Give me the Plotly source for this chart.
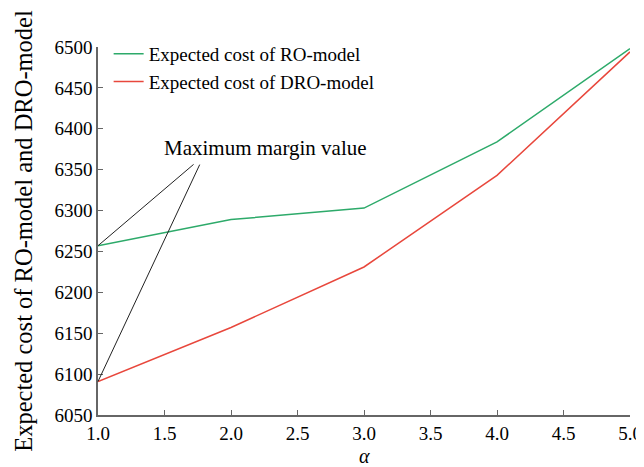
import plotly.graph_objects as go

alpha = [1.0, 2.0, 3.0, 4.0, 5.0]
ro_cost = [6257, 6289, 6303, 6384, 6498]
dro_cost = [6091, 6157, 6231, 6343, 6494]
y_ticks = [6050, 6100, 6150, 6200, 6250, 6300, 6350, 6400, 6450, 6500]
x_ticks = [1.0, 1.5, 2.0, 2.5, 3.0, 3.5, 4.0, 4.5, 5.0]

note_text = "Maximum margin value"
note_pos = (2.26, 6376)
note_tails = [(1.73, 6358), (1.77, 6358)]
note_heads = [(alpha[0], ro_cost[0]), (alpha[0], dro_cost[0])]

FONT = "Liberation Serif, Times New Roman, serif"

fig = go.Figure()
fig.add_trace(go.Scatter(x=alpha, y=ro_cost, mode="lines", name="Expected cost of RO-model",
                         line=dict(color="#2daa6a", width=1.5)))
fig.add_trace(go.Scatter(x=alpha, y=dro_cost, mode="lines", name="Expected cost of DRO-model",
                         line=dict(color="#e8473c", width=1.5)))

for (hx, hy), (tx, ty) in zip(note_heads, note_tails):
    fig.add_annotation(x=hx, y=hy, ax=tx, ay=ty, xref="x", yref="y", axref="x", ayref="y",
                       text="", showarrow=True, arrowhead=0, arrowwidth=1, arrowcolor="#222")
fig.add_annotation(x=note_pos[0], y=note_pos[1], xref="x", yref="y", text=note_text,
                   showarrow=False, font=dict(family=FONT, size=21, color="black"))
# x-axis title (alpha), placed low as in the reference
fig.add_annotation(x=0.5, y=-0.112, xref="paper", yref="paper", text="<i>α</i>",
                   showarrow=False, yanchor="middle", font=dict(family=FONT, size=20, color="black"))

fig.update_layout(
    width=636, height=459,
    margin=dict(l=90, r=14, t=39, b=52),
    paper_bgcolor="white", plot_bgcolor="white",
    font=dict(family=FONT, color="black"),
    showlegend=True,
    legend=dict(x=0.02, y=1.033, xanchor="left", yanchor="top", bgcolor="rgba(0,0,0,0)",
                font=dict(family=FONT, size=19), tracegroupgap=0, itemwidth=30),
)
fig.update_xaxes(range=[1, 5], tickvals=x_ticks, ticktext=[f"{v:.1f}" for v in x_ticks],
                 showgrid=False, zeroline=False, showline=True, linecolor="#666", linewidth=1.5,
                 ticks="inside", ticklen=5, tickcolor="#666", tickfont=dict(family=FONT, size=19),
                 automargin=False)
fig.update_yaxes(range=[6050, 6500], tickvals=y_ticks,
                 showgrid=False, zeroline=False, showline=True, linecolor="#666", linewidth=1.5,
                 ticks="inside", ticklen=5, tickcolor="#666", tickfont=dict(family=FONT, size=19),
                 automargin=False,
                 title=dict(text="Expected cost of RO-model and DRO-model", font=dict(family=FONT, size=24.5),
                            standoff=15))

fig.write_html("out.html")
